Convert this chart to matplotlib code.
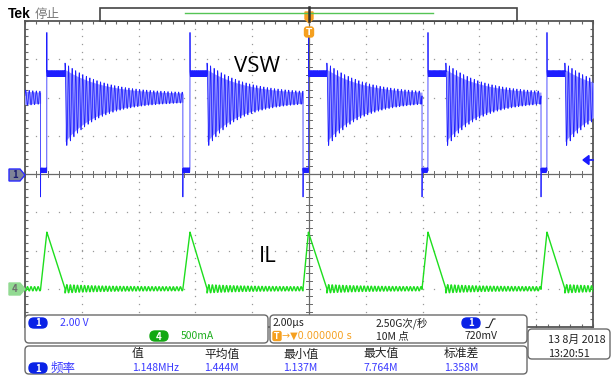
import numpy as np
import matplotlib.pyplot as plt
from matplotlib.patches import FancyBboxPatch, Polygon, Rectangle

FONT = ['Noto Sans CJK SC', 'DejaVu Sans']
plt.rcParams['font.family'] = FONT

W, H = 611, 379

# scope settings: 2 us/div, CH1 2 V/div (ground on centre line), CH4 500 mA/div (ground 3 div below)
v_div, i_div, i_ground = 2.0, 0.5, -3

# switching events (us, trigger at 0)
t_fall = [-9.45, -4.44, -0.21, 3.98, 8.17]          # switch on: VSW drops, IL starts rising
t_rise = [-9.23, -4.19, -0.02, 4.19, 8.38]          # switch off: VSW jumps, IL at peak
t_ring = [-12.85, -8.59, -3.59, 0.63, 4.82, 9.01]   # IL back to zero, DCM ringing begins

v_low, v_high = 0.2, 5.25            # V
v_under, v_over = -1.2, 7.4          # V, edge spikes
ring_mid, ring_mid_dip = 4.0, 0.42   # V
ring_amp0, ring_amp_end = 2.0, 0.22  # V
ring_tau = 1.2                       # us
ring_freq = 8.0                      # MHz
il_peak = 0.74                       # A
il_ring0, il_ring_end = 0.03, 0.025  # A

# measurement table
meas_head = ['值', '平均值', '最小值', '最大值', '标准差']
meas_vals = ['1.148MHz', '1.444M', '1.137M', '7.764M', '1.358M']
meas_x = [132, 204, 283, 363, 444]

# ---- build the two traces
t_parts, v_parts, i_parts = [], [], []
env = []
ends = t_fall + [10.5]
for k in range(len(t_ring)):
    t0, t1 = t_ring[k], ends[k]
    tt = np.linspace(t0, t1, int((t1 - t0) * 1500), endpoint=False)
    d = tt - t0
    ph = np.cos(2 * np.pi * ring_freq * d)
    amp = ring_amp_end + ring_amp0 * np.exp(-d / ring_tau)
    mid = ring_mid - ring_mid_dip * np.exp(-d / 0.9)
    env.append((tt, mid + 0.85 * amp, mid - 0.85 * amp))
    t_parts.append(tt)
    v_parts.append(mid + amp * ph)
    i_parts.append(-(il_ring_end + il_ring0 * np.exp(-d / ring_tau)) * ph)
    if k < len(t_fall):
        tf, tr, tn = t_fall[k], t_rise[k], t_ring[k + 1]
        tt = np.linspace(tf, tr, 80, endpoint=False)
        v = v_low + 0.12 * np.cos(2 * np.pi * 40 * (tt - tf))
        v[0] = v_under
        t_parts.append(tt); v_parts.append(v); i_parts.append(il_peak * (tt - tf) / (tr - tf))
        tt = np.linspace(tr, tn, 400, endpoint=False)
        v = v_high + 0.15 * np.cos(2 * np.pi * 40 * (tt - tr))
        v[0] = v_over
        t_parts.append(tt); v_parts.append(v); i_parts.append(il_peak * (tn - tt) / (tn - tr))
t = np.concatenate(t_parts)
vsw = np.concatenate(v_parts)
il = np.concatenate(i_parts)

# ---- figure
fig = plt.figure(figsize=(W / 100, H / 100), dpi=100)
ax = fig.add_axes([25 / W, 1 - 327 / H, 568 / W, 306 / H])
ax.set_xlim(-10, 10)
ax.set_ylim(-4, 4)
for s in ax.spines.values():
    s.set_color('#555555')
    s.set_linewidth(1.3)
ax.set_xticks(np.arange(-10, 10.1, 2))
ax.set_xticks(np.arange(-10, 10.1, 0.4), minor=True)
ax.set_yticks(np.arange(-4, 4.1, 1))
ax.set_yticks(np.arange(-4, 4.1, 0.2), minor=True)
ax.tick_params(which='both', direction='in', top=True, right=True, length=2.5,
               width=0.8, color='#666666', labelbottom=False, labelleft=False)

# dotted graticule
gy = np.arange(-4, 4.01, 0.2)
gx = np.arange(-10, 10.01, 0.4)
for x in np.arange(-8, 9, 2):
    if x != 0:
        ax.plot(np.full_like(gy, x), gy, ls='none', marker='s', ms=0.9, mew=0, color='#999999')
for y in np.arange(-3, 4, 1):
    if y != 0:
        ax.plot(gx, np.full_like(gx, y), ls='none', marker='s', ms=0.9, mew=0, color='#999999')
ax.axhline(0, color='#6a6a6a', lw=0.9)
ax.axvline(0, color='#6a6a6a', lw=0.9)
for x in gx:
    ax.plot([x, x], [-0.07, 0.07], color='#6a6a6a', lw=0.7)
for y in gy:
    ax.plot([-0.1, 0.1], [y, y], color='#6a6a6a', lw=0.7)

# intensity-graded band behind the ringing, then the traces
for tt, hi, lo in env:
    ax.fill_between(tt, hi / v_div, lo / v_div, color='#9a9aff', lw=0, zorder=4)
ax.plot(t, vsw / v_div, color='#1e1eff', lw=0.55, zorder=5)
ax.plot(t, il / i_div + i_ground, color='#1ede1e', lw=1.0, zorder=5)

ax.text(-2.65, 2.8, 'VSW', fontsize=16, family='Open Sans', color='black', va='center', zorder=6)
ax.text(-1.75, -2.15, 'IL', fontsize=16, family='Open Sans', color='black', va='center', zorder=6)

# ---- overlay in pixel coordinates
ov = fig.add_axes([0, 0, 1, 1])
ov.set_xlim(0, W)
ov.set_ylim(H, 0)
ov.axis('off')

ov.text(8, 14, 'Tek', fontsize=10, weight='bold', family='Liberation Sans', va='center')
ov.text(35, 14, '停止', fontsize=9, color='#777777', va='center')

ov.add_patch(Rectangle((100, 8), 417, 12.5, fc='white', ec='#444444', lw=1.2))
ov.plot([185, 433], [13, 13], color='#55c455', lw=1.0)
ov.plot([309, 309], [7, 21], color='#333333', lw=1.8)
ov.add_patch(Polygon([(305, 12), (313, 12), (313, 19), (309, 23), (305, 19)], fc='#f5a020', ec='#f5a020'))
ov.add_patch(FancyBboxPatch((304.5, 27), 9, 10, boxstyle='round,pad=0,rounding_size=2.5', fc='#f5a020', ec='#f5a020'))
ov.text(309, 32.5, 'T', fontsize=6.5, color='white', weight='bold', ha='center', va='center', family='DejaVu Sans')

# channel markers
ov.add_patch(Polygon([(9, 169), (20, 169), (25, 175), (20, 181), (9, 181)], fc='#7f8397', ec='#2a2aff', lw=1))
ov.text(15, 175.5, '1', fontsize=7, color='#1a1a70', ha='center', va='center', weight='bold')
ov.add_patch(Polygon([(9, 283), (20, 283), (25, 289), (20, 295), (9, 295)], fc='#92da92', ec='#92da92', lw=1))
ov.text(15, 289.5, '4', fontsize=7, color='#707070', ha='center', va='center', weight='bold')
ov.add_patch(Polygon([(583, 160), (589, 155.5), (589, 164.5)], fc='#1a1aff', ec='#1a1aff'))
ov.plot([588, 593], [160, 160], color='#1a1aff', lw=1.2)


def panel(x0, y0, x1, y1):
    ov.add_patch(FancyBboxPatch((x0, y0), x1 - x0, y1 - y0, boxstyle='round,pad=0,rounding_size=4',
                                fc='white', ec='#6a6a6a', lw=1.0, zorder=3))


def badge(cx, cy, txt, col):
    ov.add_patch(FancyBboxPatch((cx - 9, cy - 5), 18, 10, boxstyle='round,pad=0,rounding_size=5',
                                fc=col, ec=col, zorder=4))
    ov.text(cx, cy + 0.5, txt, fontsize=7, color='white', ha='center', va='center', weight='bold', zorder=5)


panel(25, 315, 268, 343)
panel(270, 315, 527, 343)
panel(25, 346, 527, 374)
panel(528, 329, 610, 359)

blue_t = '#3a3aff'
green_t = '#1fae1f'
orange_t = '#f5a020'
badge(38, 323, '1', '#0a22e6')
ov.text(60, 323, '2.00 V', fontsize=7.5, color=blue_t, va='center', zorder=5)
badge(159, 336, '4', '#12a812')
ov.text(181, 336, '500mA', fontsize=7.5, color=green_t, va='center', zorder=5)

ov.text(273, 323, '2.00µs', fontsize=7.5, color='#222222', va='center', zorder=5)
ov.add_patch(FancyBboxPatch((273, 331.5), 8, 9, boxstyle='round,pad=0,rounding_size=1.5', fc=orange_t, ec=orange_t, zorder=4))
ov.text(277, 336.3, 'T', fontsize=5.5, color='white', ha='center', va='center', weight='bold', zorder=5, family='DejaVu Sans')
ov.text(282, 336, '→▼0.000000 s', fontsize=7, color=orange_t, va='center', zorder=5, family='DejaVu Sans')
ov.text(376, 323, '2.50G次/秒', fontsize=7.5, color='#222222', va='center', zorder=5)
ov.text(376, 336, '10M 点', fontsize=7.5, color='#222222', va='center', zorder=5)
badge(471, 323, '1', '#0a22e6')
ov.plot([486, 489, 493, 495], [327.5, 327.5, 319, 319], color='#222222', lw=0.8, zorder=5)
ov.text(464, 336, '720mV', fontsize=7.5, color='#222222', va='center', zorder=5)

badge(38, 368, '1', '#0a22e6')
ov.text(51, 368, '频率', fontsize=9, color=blue_t, va='center', zorder=5)
for x, h, v in zip(meas_x, meas_head, meas_vals):
    ov.text(x, 354, h, fontsize=8.5, color='#222222', va='center', zorder=5)
    ov.text(x, 368, v, fontsize=7.5, color=blue_t, va='center', zorder=5)

ov.text(548, 340, '13 8月 2018', fontsize=7.8, color='#222222', va='center', zorder=5)
ov.text(548, 354, '13:20:51', fontsize=7.8, color='#222222', va='center', zorder=5)

fig.savefig('out.png', dpi=100)
